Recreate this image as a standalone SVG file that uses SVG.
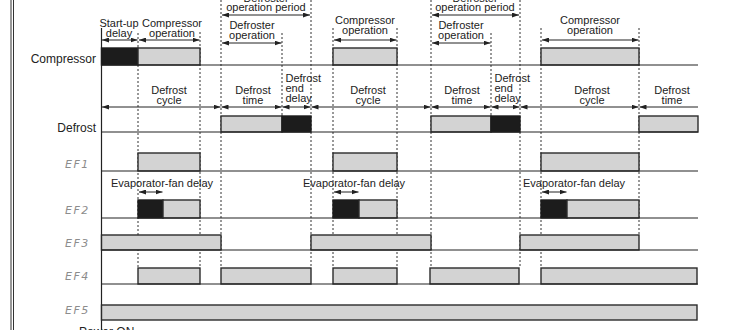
<svg xmlns="http://www.w3.org/2000/svg" width="747" height="330" viewBox="0 0 747 330">
<style>
  .t{font-family:"Liberation Sans",Arial,sans-serif;font-size:11px;fill:#222;text-anchor:middle}
  .ts{font-family:"Liberation Sans",Arial,sans-serif;font-size:11px;fill:#222;text-anchor:start}
  .ev{font-family:"Liberation Sans",Arial,sans-serif;font-size:11px;fill:#222;text-anchor:start}
  .row{font-family:"Liberation Sans",Arial,sans-serif;font-size:12px;fill:#222;text-anchor:end}
  .ef{font-family:"DejaVu Sans",sans-serif;font-size:11px;font-style:italic;fill:#8c8c8c;letter-spacing:1.5px}
  .base{stroke:#222;stroke-width:1.2;fill:none}
  .dot{stroke:#333;stroke-width:1;stroke-dasharray:2 2;fill:none}
  .g{fill:#d3d3d3;stroke:#2b2b2b;stroke-width:1.4}
  .k{fill:#1c1c1c;stroke:#1c1c1c;stroke-width:1.4}
  .arr{stroke:#222;stroke-width:1;fill:none;marker-start:url(#ah);marker-end:url(#ah)}
  .arr1{stroke:#222;stroke-width:1;fill:none;marker-start:url(#ah)}
</style>
<defs>
  <marker id="ah" markerUnits="userSpaceOnUse" markerWidth="7" markerHeight="5" refX="7" refY="2.5" orient="auto-start-reverse">
    <path d="M0,0 L7,2.5 L0,5 z" fill="#222"/>
  </marker>
</defs>
<rect width="747" height="330" fill="#fff"/>

<!-- frame -->
<g id="frame">
  <line x1="11" y1="0" x2="11" y2="330" stroke="#333" stroke-width="1"/>
  <line x1="13.5" y1="0" x2="13.5" y2="330" stroke="#333" stroke-width="1"/>
  <line x1="101.5" y1="28" x2="101.5" y2="330" stroke="#222" stroke-width="1.2"/>
</g>

<!-- dotted event lines -->
<g id="events">
  <line class="dot" x1="138" y1="33" x2="138" y2="268"/>
  <line class="dot" x1="200" y1="32" x2="200" y2="268"/>
  <line class="dot" x1="221" y1="0" x2="221" y2="268"/>
  <line class="dot" x1="282" y1="33" x2="282" y2="116"/>
  <line class="dot" x1="311" y1="0" x2="311" y2="268"/>
  <line class="dot" x1="333" y1="28" x2="333" y2="268"/>
  <line class="dot" x1="397" y1="28" x2="397" y2="268"/>
  <line class="dot" x1="431" y1="0" x2="431" y2="268"/>
  <line class="dot" x1="491" y1="33" x2="491" y2="116"/>
  <line class="dot" x1="520" y1="0" x2="520" y2="268"/>
  <line class="dot" x1="541" y1="28" x2="541" y2="268"/>
  <line class="dot" x1="639" y1="28" x2="639" y2="235"/>
</g>

<!-- Compressor row -->
<g id="compressor">
  <text class="row" x="96" y="62.5">Compressor</text>
  <rect class="k" x="101.5" y="48" width="36.5" height="17"/>
  <rect class="g" x="138" y="48" width="62" height="17"/>
  <rect class="g" x="333" y="48" width="64" height="17"/>
  <rect class="g" x="541" y="48" width="98" height="17"/>
  <line class="base" x1="101" y1="65" x2="698" y2="65"/>
</g>

<!-- Defrost row -->
<g id="defrost">
  <text class="row" x="96" y="132">Defrost</text>
  <rect class="g" x="221" y="116" width="61" height="16"/>
  <rect class="k" x="282" y="116" width="29" height="16"/>
  <rect class="g" x="431" y="116" width="60" height="16"/>
  <rect class="k" x="491" y="116" width="29" height="16"/>
  <rect class="g" x="639" y="116" width="59" height="16"/>
  <line class="base" x1="101" y1="132" x2="698" y2="132"/>
</g>

<!-- EF1 -->
<g id="ef1">
  <text class="ef" x="65" y="168">EF1</text>
  <rect class="g" x="138" y="153" width="62" height="18"/>
  <rect class="g" x="333" y="153" width="64" height="18"/>
  <rect class="g" x="541" y="153" width="98" height="18"/>
  <line class="base" x1="101" y1="171" x2="698" y2="171"/>
</g>

<!-- EF2 -->
<g id="ef2">
  <text class="ef" x="65" y="214">EF2</text>
  <rect class="k" x="138" y="200" width="25" height="18"/>
  <rect class="g" x="163" y="200" width="37" height="18"/>
  <rect class="k" x="333" y="200" width="26" height="18"/>
  <rect class="g" x="359" y="200" width="38" height="18"/>
  <rect class="k" x="541" y="200" width="26" height="18"/>
  <rect class="g" x="567" y="200" width="72" height="18"/>
  <line class="base" x1="101" y1="218" x2="698" y2="218"/>
</g>

<!-- EF3 -->
<g id="ef3">
  <text class="ef" x="65" y="247">EF3</text>
  <rect class="g" x="101.5" y="235" width="119.5" height="15"/>
  <rect class="g" x="311" y="235" width="120" height="15"/>
  <rect class="g" x="520" y="235" width="119" height="15"/>
  <line class="base" x1="101" y1="250" x2="698" y2="250"/>
</g>

<!-- EF4 -->
<g id="ef4">
  <text class="ef" x="65" y="280">EF4</text>
  <rect class="g" x="138" y="268" width="62" height="16"/>
  <rect class="g" x="221" y="268" width="90" height="16"/>
  <rect class="g" x="333" y="268" width="64" height="16"/>
  <rect class="g" x="430" y="268" width="89" height="16"/>
  <rect class="g" x="541" y="268" width="156" height="16"/>
  <line class="base" x1="101" y1="284" x2="698" y2="284"/>
</g>

<!-- EF5 -->
<g id="ef5">
  <text class="ef" x="65" y="314">EF5</text>
  <rect class="g" x="101.5" y="305" width="595.5" height="15"/>
</g>

<!-- labels -->
<g id="labels">
  <text class="t" x="266" y="1.5">Defroster</text>
  <text class="t" x="266" y="10.5">operation period</text>
  <text class="t" x="475" y="1.5">Defroster</text>
  <text class="t" x="475" y="10.5">operation period</text>

  <text class="t" x="119" y="27">Start-up</text>
  <text class="t" x="119" y="36.5">delay</text>
  <text class="t" x="172" y="27">Compressor</text>
  <text class="t" x="172" y="36.5">operation</text>

  <text class="t" x="252" y="29">Defroster</text>
  <text class="t" x="252" y="39">operation</text>
  <text class="t" x="461" y="29">Defroster</text>
  <text class="t" x="461" y="39">operation</text>

  <text class="t" x="365" y="24">Compressor</text>
  <text class="t" x="365" y="34">operation</text>
  <text class="t" x="590" y="24">Compressor</text>
  <text class="t" x="590" y="34">operation</text>

  <text class="t" x="169" y="93.5">Defrost</text>
  <text class="t" x="169" y="103.5">cycle</text>
  <text class="t" x="253" y="93.5">Defrost</text>
  <text class="t" x="253" y="103.5">time</text>
  <text class="ts" x="285.5" y="81.5">Defrost</text>
  <text class="ts" x="285.5" y="91.5">end</text>
  <text class="ts" x="285.5" y="101.5">delay</text>
  <text class="t" x="368" y="93.5">Defrost</text>
  <text class="t" x="368" y="103.5">cycle</text>
  <text class="t" x="462" y="93.5">Defrost</text>
  <text class="t" x="462" y="103.5">time</text>
  <text class="ts" x="494.5" y="81.5">Defrost</text>
  <text class="ts" x="494.5" y="91.5">end</text>
  <text class="ts" x="494.5" y="101.5">delay</text>
  <text class="t" x="592" y="93.5">Defrost</text>
  <text class="t" x="592" y="103.5">cycle</text>
  <text class="t" x="672" y="93.5">Defrost</text>
  <text class="t" x="672" y="103.5">time</text>

  <text class="ev" x="111" y="187">Evaporator-fan delay</text>
  <text class="ev" x="303" y="187">Evaporator-fan delay</text>
  <text class="ev" x="523" y="187">Evaporator-fan delay</text>

  <text class="row" x="79" y="336" style="text-anchor:start">Power ON</text>
</g>

<!-- dimension arrows -->
<g id="connectors">
  <line class="arr" x1="222" y1="15" x2="310" y2="15"/>
  <line class="arr" x1="432" y1="15" x2="519" y2="15"/>

  <line class="arr" x1="102" y1="40" x2="137.5" y2="40"/>
  <line class="arr" x1="139" y1="40" x2="199.5" y2="40"/>
  <line class="arr" x1="334" y1="40" x2="396.5" y2="40"/>
  <line class="arr" x1="542" y1="40" x2="638.5" y2="40"/>

  <line class="arr" x1="222" y1="43" x2="281.5" y2="43"/>
  <line class="arr" x1="432" y1="43" x2="490.5" y2="43"/>

  <line class="arr" x1="102" y1="107" x2="220.5" y2="107"/>
  <line class="arr" x1="221.5" y1="107" x2="281.5" y2="107"/>
  <line class="arr" x1="282.5" y1="107" x2="310.5" y2="107"/>
  <line class="arr" x1="311.5" y1="107" x2="430.5" y2="107"/>
  <line class="arr" x1="431.5" y1="107" x2="490.5" y2="107"/>
  <line class="arr" x1="491.5" y1="107" x2="519.5" y2="107"/>
  <line class="arr" x1="520.5" y1="107" x2="638.5" y2="107"/>
  <line class="arr1" x1="639.5" y1="107" x2="698" y2="107"/>

  <line class="arr" x1="139" y1="192" x2="162.5" y2="192"/>
  <line class="arr" x1="334" y1="192" x2="358.5" y2="192"/>
  <line class="arr" x1="542" y1="192" x2="566.5" y2="192"/>
</g>
</svg>
